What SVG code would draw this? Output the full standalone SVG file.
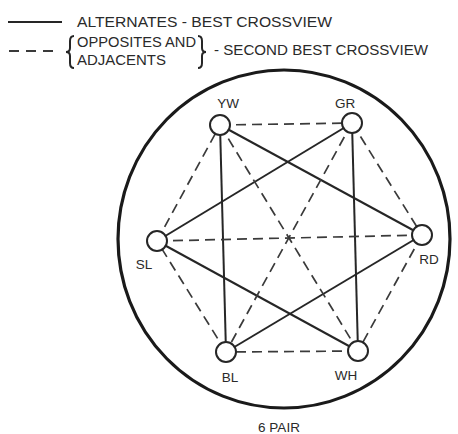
<svg xmlns="http://www.w3.org/2000/svg" width="458" height="434" viewBox="0 0 458 434">
<style>
text{font-family:"Liberation Sans","DejaVu Sans",sans-serif;fill:#2a2a2a}
.leg{font-size:15px}
.lbl{font-size:13.5px;text-anchor:middle}
.solid{stroke:#262626;stroke-width:2;fill:none}
.dash{stroke:#3a3a3a;stroke-width:1.7;fill:none;stroke-dasharray:10 6}
.node{fill:#fff;stroke:#262626;stroke-width:2}
</style>
<rect width="458" height="434" fill="#fff"/>
<g id="legend">
<line x1="8" y1="22" x2="62" y2="22" class="solid" stroke-width="2.4"/>
<text class="leg" x="77" y="27" textLength="255" lengthAdjust="spacingAndGlyphs">ALTERNATES - BEST CROSSVIEW</text>
<line x1="9" y1="51" x2="55" y2="51" class="dash" style="stroke-dasharray:10 7;stroke-width:2"/>
<path d="M74,36 Q70,36 70,41 L70,48 Q70,52 66,52 Q70,52 70,56 L70,63 Q70,68 74,68" class="solid" stroke-width="1.6"/>
<text class="leg" x="77" y="47" textLength="119" lengthAdjust="spacingAndGlyphs">OPPOSITES AND</text>
<text class="leg" x="77" y="65" textLength="89" lengthAdjust="spacingAndGlyphs">ADJACENTS</text>
<path d="M198,36 Q202,36 202,41 L202,48 Q202,52 206,52 Q202,52 202,56 L202,63 Q202,68 198,68" class="solid" stroke-width="1.6"/>
<text class="leg" x="214" y="55" textLength="214" lengthAdjust="spacingAndGlyphs">- SECOND BEST CROSSVIEW</text>
</g>
<ellipse id="frame" cx="284" cy="239" rx="166" ry="169" fill="none" stroke="#1a1a1a" stroke-width="3.2"/>
<g id="connectors">
<line class="solid" x1="220" y1="125" x2="422" y2="235"/>
<line class="solid" x1="220" y1="125" x2="226" y2="352"/>
<line class="solid" x1="422" y1="235" x2="226" y2="352"/>
<line class="solid" x1="352" y1="123" x2="157" y2="241"/>
<line class="solid" x1="352" y1="123" x2="358" y2="351"/>
<line class="solid" x1="157" y1="241" x2="358" y2="351"/>
<line class="dash" x1="220" y1="125" x2="352" y2="123"/>
<line class="dash" x1="352" y1="123" x2="422" y2="235"/>
<line class="dash" x1="422" y1="235" x2="358" y2="351"/>
<line class="dash" x1="358" y1="351" x2="226" y2="352"/>
<line class="dash" x1="226" y1="352" x2="157" y2="241"/>
<line class="dash" x1="157" y1="241" x2="220" y2="125"/>
<line class="dash" x1="220" y1="125" x2="358" y2="351"/>
<line class="dash" x1="352" y1="123" x2="226" y2="352"/>
<line class="dash" x1="157" y1="241" x2="422" y2="235"/>
</g>
<g id="YW"><circle class="node" cx="220" cy="125" r="10"/><text class="lbl" x="228" y="108">YW</text></g>
<g id="GR"><circle class="node" cx="352" cy="123" r="10"/><text class="lbl" x="345" y="108">GR</text></g>
<g id="SL"><circle class="node" cx="157" cy="241" r="10"/><text class="lbl" x="144" y="269">SL</text></g>
<g id="RD"><circle class="node" cx="422" cy="235" r="10"/><text class="lbl" x="429" y="264">RD</text></g>
<g id="BL"><circle class="node" cx="226" cy="352" r="10"/><text class="lbl" x="230" y="382">BL</text></g>
<g id="WH"><circle class="node" cx="358" cy="351" r="10"/><text class="lbl" x="346" y="380">WH</text></g>
<text id="caption" class="lbl" x="279" y="432" style="font-size:13.5px">6 PAIR</text>
</svg>
